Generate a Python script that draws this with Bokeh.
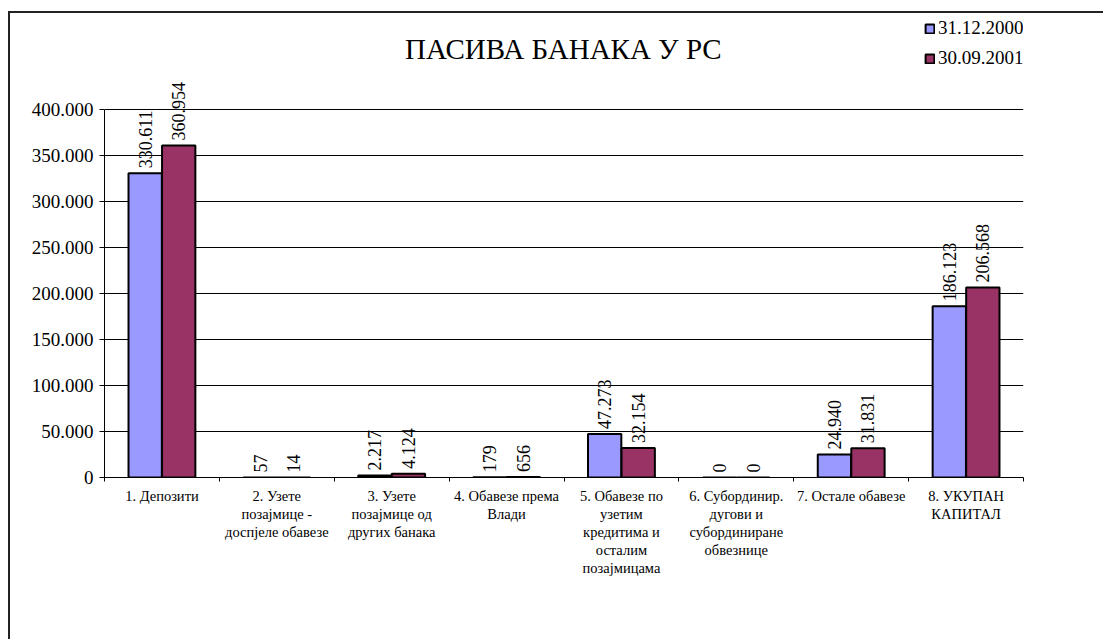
import math
from bokeh.plotting import figure
from bokeh.models import (ColumnDataSource, FixedTicker, LabelSet, Label, Legend, LegendItem, Range1d)
from bokeh.embed import file_html
from bokeh.resources import INLINE

categories = [
    "1. Депозити",
    "2. Узете\nпозајмице -\nдоспјеле обавезе",
    "3. Узете\nпозајмице од\nдругих банака",
    "4. Обавезе према\nВлади",
    "5. Обавезе по\nузетим\nкредитима и\nосталим\nпозајмицама",
    "6. Субординир.\nдугови и\nсубординиране\nобвезнице",
    "7. Остале обавезе",
    "8. УКУПАН\nКАПИТАЛ",
]
series_names = ["31.12.2000", "30.09.2001"]
values_2000 = [330611, 57, 2217, 179, 47273, 0, 24940, 186123]
values_2001 = [360954, 14, 4124, 656, 32154, 0, 31831, 206568]
y_ticks = [0, 50000, 100000, 150000, 200000, 250000, 300000, 350000, 400000]
y_tick_labels = ["0", "50.000", "100.000", "150.000", "200.000", "250.000", "300.000", "350.000", "400.000"]
title_text = "ПАСИВА  БАНАКА У РС"

colors = ["#9999FF", "#993366"]
FONT = "Liberation Serif"


def fmt(v):
    return f"{v:,}".replace(",", ".")


n = len(categories)
centers = [i + 0.5 for i in range(n)]
offset = 0.146
bar_w = 0.29

src_a = ColumnDataSource(dict(x=[c - offset for c in centers], top=values_2000,
                              lbl=[fmt(v) for v in values_2000]))
src_b = ColumnDataSource(dict(x=[c + offset for c in centers], top=values_2001,
                              lbl=[fmt(v) for v in values_2001]))

# layout (pixels, page coordinates; canvas starts at page (10, 13))
W, H = 1095, 628
CX, CY = 10, 13
FRAME_L, FRAME_R, FRAME_B = 104, 1023, 477
Y_TOP_PX = 109          # page y of the 400.000 gridline
y_max = y_ticks[-1]
y_end = y_max * (FRAME_B - CY) / (FRAME_B - Y_TOP_PX)

p = figure(width=W, height=H, output_backend="svg", toolbar_location=None,
           x_range=Range1d(0, n), y_range=Range1d(0, y_end),
           min_border_left=FRAME_L - CX, min_border_top=0,
           min_border_right=W - (FRAME_R - CX),
           min_border_bottom=H - (FRAME_B - CY))
p.margin = (CY - 2, 0, 0, CX - 2)
p.styles = {"border-left": "2px solid #222", "border-top": "2px solid #222"}
p.outline_line_color = None
p.background_fill_color = "white"
p.border_fill_color = "white"

ra = p.vbar(x="x", top="top", width=bar_w, source=src_a, fill_color=colors[0],
            line_color="black", line_width=2)
rb = p.vbar(x="x", top="top", width=bar_w, source=src_b, fill_color=colors[1],
            line_color="black", line_width=2)

for src in (src_a, src_b):
    p.add_layout(LabelSet(x="x", y="top", text="lbl", source=src, angle=math.pi / 2,
                          text_align="left", text_baseline="middle", y_offset=5,
                          text_font=FONT, text_font_size="18px", text_color="black"))

# axes
p.xgrid.grid_line_color = None
p.ygrid.grid_line_color = "black"
p.ygrid.grid_line_width = 1
p.ygrid.ticker = FixedTicker(ticks=y_ticks)

ya = p.yaxis[0]
ya.ticker = FixedTicker(ticks=y_ticks)
ya.bounds = (0, y_max)
ya.major_label_overrides = dict(zip(y_ticks, y_tick_labels))
ya.major_label_text_font = FONT
ya.major_label_text_font_size = "19px"
ya.major_label_text_color = "black"
ya.major_tick_in = 0
ya.major_tick_out = 5
ya.minor_tick_line_color = None
ya.axis_line_color = "black"
ya.major_tick_line_color = "black"
ya.major_label_standoff = 6

xa = p.xaxis[0]
xa.ticker = FixedTicker(ticks=centers, minor_ticks=list(range(n + 1)))
xa.major_label_overrides = dict(zip(centers, categories))
xa.major_label_text_font = FONT
xa.major_label_text_font_size = "14.5px"
xa.major_label_text_color = "black"
xa.major_label_text_line_height = 1.14
xa.major_tick_line_color = None
xa.major_tick_in = 0
xa.major_tick_out = 0
xa.minor_tick_in = 0
xa.minor_tick_out = 4
xa.minor_tick_line_color = "black"
xa.axis_line_color = "black"
xa.major_label_standoff = 6

# title (placed in data space above the 400.000 line)
title_y = y_max * (FRAME_B - 48) / (FRAME_B - Y_TOP_PX)
p.add_layout(Label(x=n / 2, y=title_y, x_offset=3, text=title_text, text_align="center",
                   text_baseline="middle", text_font=FONT, text_font_size="29px",
                   text_color="black"))

legend = Legend(items=[LegendItem(label=series_names[0], renderers=[ra]),
                       LegendItem(label=series_names[1], renderers=[rb])],
                location=(924 - FRAME_L, FRAME_B - 69), orientation="vertical",
                glyph_width=11, glyph_height=11, label_standoff=3, spacing=8,
                padding=0, margin=0, border_line_color=None,
                background_fill_alpha=0, label_text_font=FONT,
                label_text_font_size="19px", label_text_color="black")
p.add_layout(legend)

open("out.html", "w").write(file_html(p, INLINE))
